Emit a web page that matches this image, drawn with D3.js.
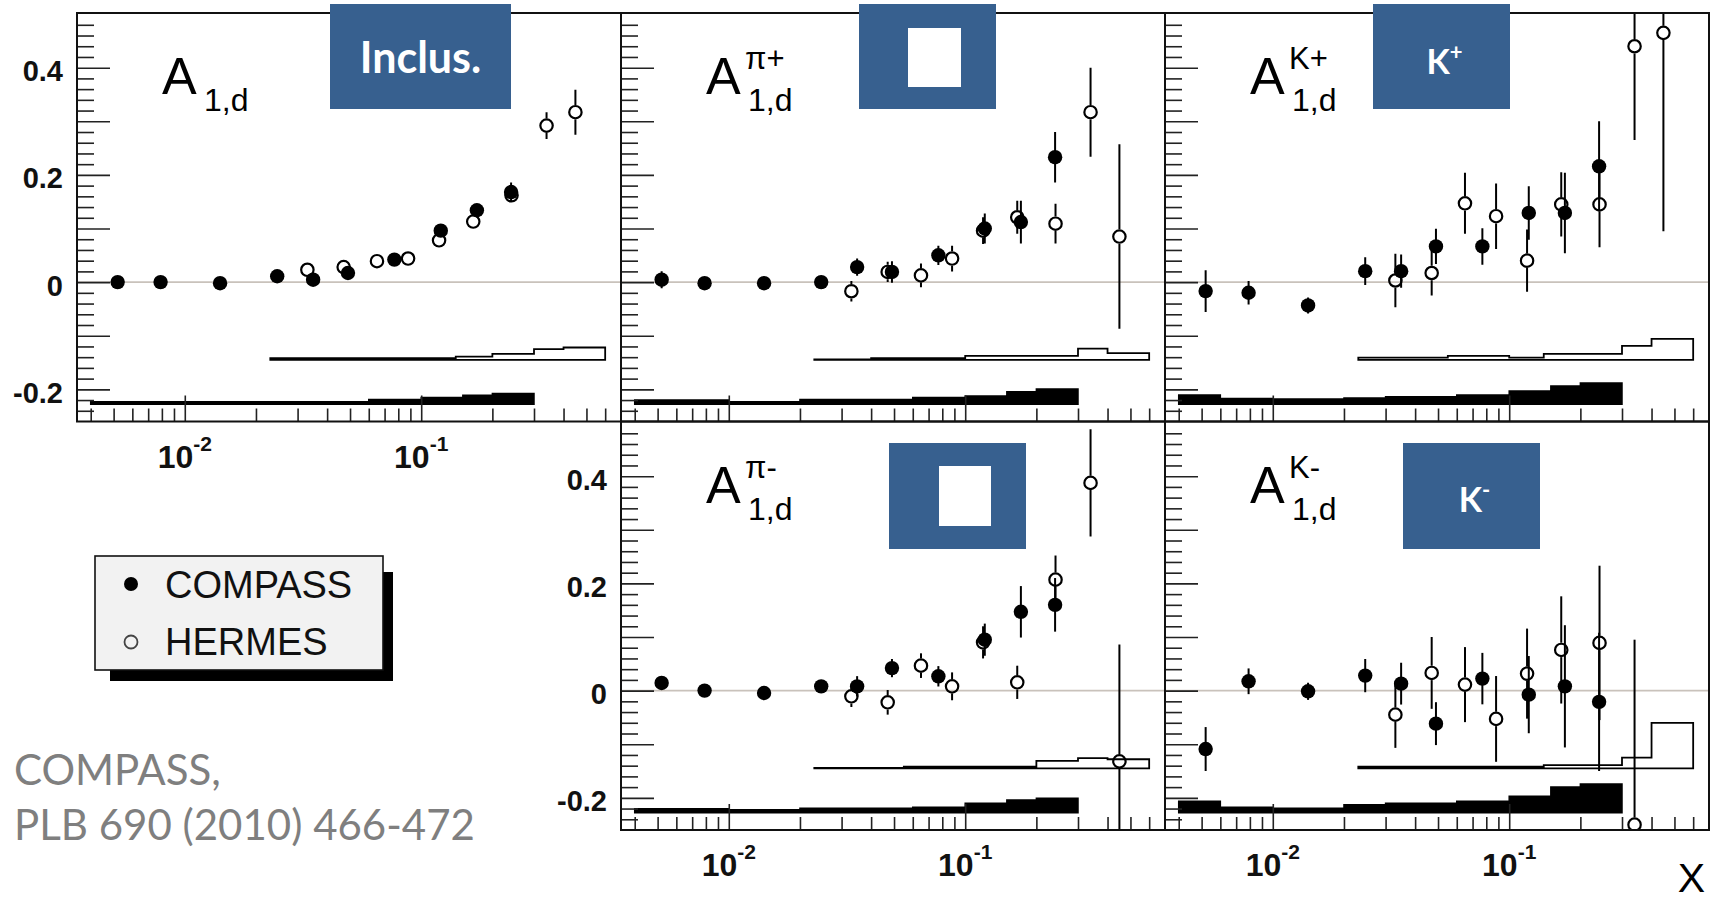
<!DOCTYPE html>
<html><head><meta charset="utf-8">
<script src="https://cdn.jsdelivr.net/npm/d3@7"></script>
<style>body{margin:0;background:#fff;} svg{display:block;}</style>
</head><body>
<svg id="c" width="1719" height="902"></svg>
<script>
// ---------------- DATA ----------------
const compassX = [0.0052, 0.0079, 0.0141, 0.0246, 0.0349, 0.049, 0.077, 0.121, 0.172, 0.240];
const hermesX  = [0.033, 0.047, 0.065, 0.088, 0.119, 0.166, 0.241, 0.339, 0.449];
const compassBinEdges = [0.004, 0.006, 0.01, 0.02, 0.03, 0.04, 0.06, 0.1, 0.15, 0.2, 0.3];
const hermesBinEdges  = [0.023, 0.04, 0.055, 0.075, 0.1, 0.14, 0.2, 0.3, 0.4, 0.6];
const compassSysBase = -0.228;
const hermesSysBase  = -0.145;

// inclusive A1,d
const inclCompassY   = [0, 0, -0.002, 0.011, 0.0045, 0.017, 0.042, 0.096, 0.134, 0.168];
const inclCompassErr = [0.003, 0.003, 0.003, 0.004, 0.004, 0.005, 0.006, 0.008, 0.010, 0.018];
const inclCompassSys = [0.005, 0.005, 0.005, 0.005, 0.005, 0.005, 0.009, 0.013, 0.017, 0.020];
const inclHermesY    = [0.023, 0.028, 0.039, 0.044, 0.078, 0.113, 0.162, 0.292, 0.317];
const inclHermesErr  = [0.004, 0.004, 0.005, 0.005, 0.006, 0.008, 0.010, 0.025, 0.042];
const inclHermesSys  = [0.003, 0.003, 0.003, 0.003, 0.003, 0.006, 0.011, 0.020, 0.023];

// pi+
const piPlusCompassY   = [0.0045, -0.002, -0.002, 0, 0.028, 0.019, 0.050, 0.100, 0.112, 0.233];
const piPlusCompassErr = [0.016, 0.008, 0.008, 0.008, 0.016, 0.020, 0.018, 0.028, 0.040, 0.047];
const piPlusCompassSys = [0.008, 0.008, 0.005, 0.009, 0.009, 0.009, 0.013, 0.0155, 0.0235, 0.0285];
const piPlusHermesY    = [-0.017, 0.019, 0.0125, 0.044, 0.096, 0.121, 0.109, 0.317, 0.085];
const piPlusHermesErr  = [0.019, 0.019, 0.022, 0.024, 0.025, 0.031, 0.037, 0.083, 0.172];
const piPlusHermesSys  = [0.001, 0.003, 0.003, 0.003, 0.0075, 0.0075, 0.0075, 0.021, 0.0125];

// K+
const kPlusCompassY   = [-0.0168, -0.0198, -0.0435, 0.0205, 0.0205, 0.0666, 0.0666, 0.129, 0.129, 0.216];
const kPlusCompassErr = [0.039, 0.022, 0.015, 0.026, 0.031, 0.033, 0.034, 0.050, 0.075, 0.084];
const kPlusCompassSys = [0.0174, 0.011, 0.010, 0.012, 0.014, 0.014, 0.0174, 0.025, 0.034, 0.040];
const kPlusHermesY    = [0.003, 0.017, 0.147, 0.123, 0.040, 0.145, 0.145, 0.440, 0.465];
const kPlusHermesErr  = [0.050, 0.042, 0.057, 0.061, 0.058, 0.060, 0.080, 0.175, 0.370];
const kPlusHermesSys  = [0.004, 0.004, 0.0075, 0.0075, 0.004, 0.011, 0.011, 0.026, 0.039];

// pi-
const piMinusCompassY   = [0.0143, 0, -0.0044, 0.008, 0.008, 0.042, 0.0267, 0.095, 0.147, 0.160];
const piMinusCompassErr = [0.010, 0.006, 0.006, 0.007, 0.019, 0.017, 0.019, 0.030, 0.048, 0.050];
const piMinusCompassSys = [0.0075, 0.0075, 0.0056, 0.0086, 0.0086, 0.0086, 0.0105, 0.018, 0.024, 0.027];
const piMinusHermesY    = [-0.0106, -0.0218, 0.0466, 0.008, 0.090, 0.0155, 0.207, 0.3875, -0.132];
const piMinusHermesErr  = [0.020, 0.023, 0.023, 0.026, 0.030, 0.031, 0.045, 0.100, 0.218];
const piMinusHermesSys  = [0.001, 0.001, 0.003, 0.003, 0.003, 0.003, 0.014, 0.019, 0.017];

// K-
const kMinusCompassY   = [-0.109, 0.0174, -0.0013, 0.028, 0.013, -0.0616, 0.0224, -0.0075, 0.008, -0.021];
const kMinusCompassErr = [0.041, 0.024, 0.016, 0.031, 0.039, 0.040, 0.048, 0.072, 0.114, 0.129];
const kMinusCompassSys = [0.0218, 0.0105, 0.0087, 0.015, 0.018, 0.018, 0.0218, 0.031, 0.048, 0.054];
const kMinusHermesY    = [-0.0448, 0.033, 0.0112, -0.0528, 0.0317, 0.0759, 0.089, -0.250, null];
const kMinusHermesErr  = [0.062, 0.067, 0.070, 0.080, 0.084, 0.100, 0.144, 0.345, null];
const kMinusHermesSys  = [0.003, 0.003, 0.003, 0.003, 0.003, 0.0062, 0.0062, 0.020, 0.085];

// ticks
const yMajorTicks = [-0.2, -0.1, 0, 0.1, 0.2, 0.3, 0.4];
const yMinorTicks = [-0.24,-0.22,-0.18,-0.16,-0.14,-0.12,-0.08,-0.06,-0.04,-0.02,0.02,0.04,0.06,0.08,
                     0.12,0.14,0.16,0.18,0.22,0.24,0.26,0.28,0.32,0.34,0.36,0.38,0.42,0.44,0.46,0.48];
const yTickLabelValues = [-0.2, 0, 0.2, 0.4];
const yTickLabels = ["-0.2", "0", "0.2", "0.4"];
const xMajorTicks = [0.01, 0.1];
const xMinorTicks = [0.004,0.005,0.006,0.007,0.008,0.009,0.02,0.03,0.04,0.05,0.06,0.07,0.08,0.09,0.2,0.3,0.4,0.5,0.6];
const xTickLabelValues = [0.01, 0.1];
const xTickLabelExps = ["-2", "-1"];
const panelSups = ["", "π+", "K+", "π-", "K-"];
const legendLabels = ["COMPASS", "HERMES"];

// ---------------- LAYOUT ----------------
const svg = d3.select("#c");
const W = 544, H = 408.5;
const colLeft = [77, 621, 1165];
const rowTop = [13, 421.5];
const xDomain = [0.0035, 0.7];
const yDomain = [-0.26, 0.502];

const panels = [
  {col:0,row:0,sup:panelSups[0],cY:inclCompassY,cE:inclCompassErr,cS:inclCompassSys,hY:inclHermesY,hE:inclHermesErr,hS:inclHermesSys,yLab:true,xLab:true},
  {col:1,row:0,sup:panelSups[1],cY:piPlusCompassY,cE:piPlusCompassErr,cS:piPlusCompassSys,hY:piPlusHermesY,hE:piPlusHermesErr,hS:piPlusHermesSys,yLab:false,xLab:false},
  {col:2,row:0,sup:panelSups[2],cY:kPlusCompassY,cE:kPlusCompassErr,cS:kPlusCompassSys,hY:kPlusHermesY,hE:kPlusHermesErr,hS:kPlusHermesSys,yLab:false,xLab:false},
  {col:1,row:1,sup:panelSups[3],cY:piMinusCompassY,cE:piMinusCompassErr,cS:piMinusCompassSys,hY:piMinusHermesY,hE:piMinusHermesErr,hS:piMinusHermesSys,yLab:true,xLab:true},
  {col:2,row:1,sup:panelSups[4],cY:kMinusCompassY,cE:kMinusCompassErr,cS:kMinusCompassSys,hY:kMinusHermesY,hE:kMinusHermesErr,hS:kMinusHermesSys,yLab:false,xLab:true},
];

const defs = svg.append("defs");
const R = 7.2;
const axisFont = "'Liberation Sans', Arial, Helvetica, sans-serif";

panels.forEach((p, i) => {
  const L = colLeft[p.col], T = rowTop[p.row];
  const x = d3.scaleLog().domain(xDomain).range([L, L + W]);
  const y = d3.scaleLinear().domain(yDomain).range([T + H, T]);
  defs.append("clipPath").attr("id", "clip" + i)
    .append("rect").attr("x", L).attr("y", T).attr("width", W).attr("height", H);
  const g = svg.append("g");
  const gc = g.append("g").attr("clip-path", `url(#clip${i})`);

  // zero line
  gc.append("line").attr("x1", L).attr("x2", L + W).attr("y1", y(0)).attr("y2", y(0))
    .attr("stroke", "#c9c2bb").attr("stroke-width", 1.6);

  // systematic bands
  function band(edges, h, base) {
    const pts = [[edges[0], base]];
    h.forEach((v, k) => { pts.push([edges[k], base + v], [edges[k + 1], base + v]); });
    pts.push([edges[edges.length - 1], base]);
    return d3.line().x(d => x(d[0])).y(d => y(d[1]))(pts) + "Z";
  }
  gc.append("path").attr("d", band(hermesBinEdges, p.hS, hermesSysBase))
    .attr("fill", "none").attr("stroke", "#000").attr("stroke-width", 1.8);
  gc.append("path").attr("d", band(compassBinEdges, p.cS, compassSysBase))
    .attr("fill", "#000").attr("stroke", "#000").attr("stroke-width", 1.5);

  // HERMES (open)
  const hData = hermesX.map((xv, k) => ({x: xv, v: p.hY[k], e: p.hE[k]})).filter(d => d.v !== null);
  const hg = gc.append("g").selectAll("g").data(hData).join("g");
  hg.append("line").attr("x1", d => x(d.x)).attr("x2", d => x(d.x))
    .attr("y1", d => y(d.v + d.e)).attr("y2", d => y(d.v) - R)
    .attr("stroke", "#000").attr("stroke-width", 2)
    .attr("display", d => (y(d.v) - R) - y(d.v + d.e) > 0 ? null : "none");
  hg.append("line").attr("x1", d => x(d.x)).attr("x2", d => x(d.x))
    .attr("y1", d => y(d.v) + R).attr("y2", d => y(d.v - d.e))
    .attr("stroke", "#000").attr("stroke-width", 2)
    .attr("display", d => y(d.v - d.e) - (y(d.v) + R) > 0 ? null : "none");
  hg.append("circle").attr("cx", d => x(d.x)).attr("cy", d => y(d.v)).attr("r", R - 1)
    .attr("fill", "none").attr("stroke", "#000").attr("stroke-width", 2.2);

  // COMPASS (filled)
  const cData = compassX.map((xv, k) => ({x: xv, v: p.cY[k], e: p.cE[k]}));
  const cg = gc.append("g").selectAll("g").data(cData).join("g");
  cg.append("line").attr("x1", d => x(d.x)).attr("x2", d => x(d.x))
    .attr("y1", d => y(d.v + d.e)).attr("y2", d => y(d.v - d.e))
    .attr("stroke", "#000").attr("stroke-width", 2);
  cg.append("circle").attr("cx", d => x(d.x)).attr("cy", d => y(d.v)).attr("r", R).attr("fill", "#000");

  // y axis ticks (inward)
  const ya = g.append("g").attr("transform", `translate(${L},0)`);
  ya.call(d3.axisLeft(y).tickValues(yMinorTicks).tickSize(-17).tickFormat(""));
  ya.append("g").call(d3.axisLeft(y).tickValues(yMajorTicks).tickSize(-33)
      .tickPadding(14)
      .tickFormat(v => { if (!p.yLab) return ""; const k = yTickLabelValues.findIndex(t => Math.abs(t - v) < 1e-9); return k >= 0 ? yTickLabels[k] : ""; }));
  ya.selectAll(".domain").remove();
  ya.selectAll("line").attr("stroke", "#222").attr("stroke-width", 1.6);
  ya.selectAll("text").attr("font-family", axisFont).attr("font-weight", "bold")
    .attr("font-size", 29).attr("fill", "#111").attr("dy", "0.45em");

  // x axis ticks (inward)
  const xa = g.append("g").attr("transform", `translate(0,${T + H})`);
  xa.call(d3.axisBottom(x).tickValues(xMinorTicks).tickSize(-13).tickFormat(""));
  xa.append("g").call(d3.axisBottom(x).tickValues(xMajorTicks).tickSize(-26).tickFormat(""));
  xa.selectAll(".domain").remove();
  xa.selectAll("line").attr("stroke", "#222").attr("stroke-width", 1.6);

  if (p.xLab) {
    xTickLabelValues.forEach((v, k) => {
      const t = g.append("text").attr("x", x(v)).attr("y", T + H + 46)
        .attr("text-anchor", "middle").attr("font-family", axisFont).attr("font-weight", "bold")
        .attr("font-size", 32).attr("fill", "#111");
      t.append("tspan").text("10");
      t.append("tspan").attr("font-size", 21).attr("dy", -17).text(xTickLabelExps[k]);
    });
  }

  // frame
  g.append("rect").attr("x", L).attr("y", T).attr("width", W).attr("height", H)
    .attr("fill", "none").attr("stroke", "#111").attr("stroke-width", 2);

  // panel label A
  g.append("text").attr("x", L + 85).attr("y", T + 81).attr("font-family", axisFont)
    .attr("font-size", 52).attr("fill", "#000").text("A");
  g.append("text").attr("x", L + 127).attr("y", T + 98).attr("font-family", axisFont)
    .attr("font-size", 32).attr("fill", "#000").text("1,d");
  if (p.sup) {
    g.append("text").attr("x", L + 124).attr("y", T + 56).attr("font-family", axisFont)
      .attr("font-size", 31).attr("fill", "#000").text(p.sup);
  }
});

// ---------------- ANNOTATION BOXES ----------------
const boxBlue = "#37608f";
const tagFont = "Lato, 'Open Sans', sans-serif";
const tags = [
  {x:330, y:4, w:181, h:105, text:"Inclus.", size:43, base:73},
  {x:859, y:4, w:137, h:105, hole:[908, 28, 53, 59]},
  {x:1373, y:4, w:137, h:105, text:"K", sup:"+", size:34, base:74},
  {x:889, y:443, w:137, h:106, hole:[939, 466, 52, 60]},
  {x:1403, y:443, w:137, h:106, text:"K", sup:"-", size:34, base:512},
];
tags.forEach(t => {
  svg.append("rect").attr("x", t.x).attr("y", t.y).attr("width", t.w).attr("height", t.h).attr("fill", boxBlue);
  if (t.hole) svg.append("rect").attr("x", t.hole[0]).attr("y", t.hole[1]).attr("width", t.hole[2]).attr("height", t.hole[3]).attr("fill", "#fff");
  if (t.text) {
    const tx = svg.append("text").attr("x", t.x + t.w / 2 + (t.sup ? 3 : 0)).attr("y", t.base)
      .attr("text-anchor", "middle").attr("font-family", tagFont).attr("font-weight", "bold")
      .attr("font-size", t.size).attr("fill", "#fff");
    tx.append("tspan").text(t.text);
    if (t.sup) tx.append("tspan").attr("font-size", 22).attr("dy", -14).text(t.sup);
  }
});

// ---------------- LEGEND ----------------
svg.append("rect").attr("x", 110).attr("y", 572).attr("width", 283).attr("height", 109).attr("fill", "#000");
svg.append("rect").attr("x", 95).attr("y", 556).attr("width", 288).attr("height", 114)
  .attr("fill", "#f2f2f2").attr("stroke", "#111").attr("stroke-width", 1.6);
svg.append("circle").attr("cx", 131).attr("cy", 584).attr("r", 7).attr("fill", "#000");
svg.append("circle").attr("cx", 131).attr("cy", 642).attr("r", 6.5).attr("fill", "none").attr("stroke", "#444").attr("stroke-width", 1.8);
svg.append("text").attr("x", 165).attr("y", 598).attr("font-family", axisFont).attr("font-size", 38).attr("fill", "#111").text(legendLabels[0]);
svg.append("text").attr("x", 165).attr("y", 655).attr("font-family", axisFont).attr("font-size", 38).attr("fill", "#111").text(legendLabels[1]);

// ---------------- CITATION & AXIS TITLE ----------------
svg.append("text").attr("x", 14).attr("y", 785).attr("font-family", tagFont).attr("font-size", 42).attr("fill", "#7f7f7f").text("COMPASS,");
svg.append("text").attr("x", 14).attr("y", 840).attr("font-family", tagFont).attr("font-size", 42).attr("fill", "#7f7f7f").text("PLB 690 (2010) 466-472");
svg.append("text").attr("x", 1705).attr("y", 892).attr("text-anchor", "end").attr("font-family", axisFont)
  .attr("font-size", 41).attr("fill", "#000").text("X");
</script>
</body></html>
